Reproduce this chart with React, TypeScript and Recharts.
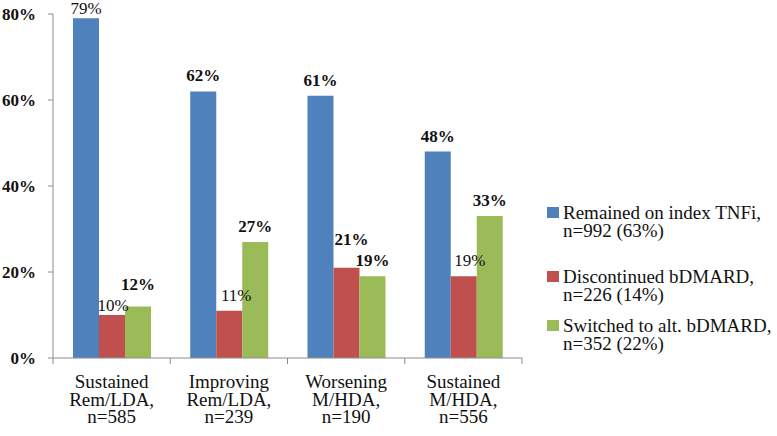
import { BarChart, Bar, XAxis, YAxis, Legend, LabelList } from 'recharts'

const categories = [
  'Sustained\nRem/LDA,\nn=585',
  'Improving\nRem/LDA,\nn=239',
  'Worsening\nM/HDA,\nn=190',
  'Sustained\nM/HDA,\nn=556',
]
const remained = [79, 62, 61, 48]
const discontinued = [10, 11, 21, 19]
const switched = [12, 27, 19, 33]
const yTicks = [0, 20, 40, 60, 80]

const seriesNames = [
  ['Remained on index TNFi,', 'n=992 (63%)'],
  ['Discontinued bDMARD,', 'n=226 (14%)'],
  ['Switched to alt. bDMARD,', 'n=352 (22%)'],
]

const BLUE = '#4F81BD'
const RED = '#C0504D'
const GREEN = '#9BBB59'
const AXIS = '#8c8c8c'
const FONT = 'Liberation Serif, DejaVu Serif, Noto Serif, serif'

const data = categories.map((c, i) => ({
  cat: c,
  remained: remained[i],
  discontinued: discontinued[i],
  switched: switched[i],
}))

// label tweaks copied from the original figure: [dx, dy, bold]
const labelStyle: Record<string, [number, number, boolean]> = {
  remained0: [0, 6, false],
  discontinued0: [1, 6, false],
  switched0: [0, -6, true],
  discontinued1: [7, 0, false],
  discontinued2: [5, -13, true],
  discontinued3: [6, 0, false],
}

const makeLabel = (key: string) => (props: any) => {
  const { x, y, width, value, index } = props
  const [dx, dy, bold] = labelStyle[key + index] ?? [0, 0, true]
  return (
    <text
      x={Number(x) + Number(width) / 2 + dx}
      y={Number(y) - 10 + dy}
      textAnchor="middle"
      style={{ fontFamily: FONT }}
      fontSize={17}
      fontWeight={bold ? 'bold' : 'normal'}
      fill="#111"
    >
      {value}%
    </text>
  )
}

const CatTick = (props: any) => {
  const { x, y, payload, index } = props
  const half = payload?.offset ?? 58.6
  const lines = String(payload.value).split('\n')
  return (
    <g>
      <line x1={x + half} x2={x + half} y1={y} y2={y + 6} stroke={AXIS} />
      {index === 0 && <line x1={x - half} x2={x - half} y1={y} y2={y + 6} stroke={AXIS} />}
      <text x={x} y={y} textAnchor="middle" style={{ fontFamily: FONT }} fontSize={19} fill="#111">
        {lines.map((l, i) => (
          <tspan key={i} x={x} y={y + 30 + i * 17.5}>{l}</tspan>
        ))}
      </text>
    </g>
  )
}

const colors = [BLUE, RED, GREEN]
const gaps = [28, 13, 0]

const LegendBox = () => (
  <div style={{ paddingLeft: 25, fontFamily: FONT, fontSize: 19, lineHeight: '18px', color: '#111' }}>
    {seriesNames.map((lines, i) => (
      <div key={i} style={{ display: 'flex', alignItems: 'flex-start', marginBottom: gaps[i] }}>
        <div style={{ width: 12, height: 11, background: colors[i], marginTop: 3, marginRight: 4, flexShrink: 0 }} />
        <div style={{ whiteSpace: 'nowrap' }}>
          {lines.map(l => <div key={l}>{l}</div>)}
        </div>
      </div>
    ))}
  </div>
)

export default function App() {
  return (
    <div style={{ position: 'absolute', left: 0, top: 0, width: 777, height: 436, background: '#fff', fontFamily: FONT }}>
      <BarChart
        width={777}
        height={436}
        data={data}
        margin={{ top: 14, right: 15, left: 0, bottom: 0 }}
        barGap={0}
        barSize={26}
      >
        <XAxis
          dataKey="cat"
          height={78}
          interval={0}
          axisLine={{ stroke: AXIS }}
          tickLine={false}
          tickSize={0}
          tickMargin={0}
          tick={<CatTick />}
        />
        <YAxis
          width={53}
          domain={[0, 80]}
          ticks={yTicks}
          interval={0}
          tickFormatter={v => `${v}%`}
          axisLine={{ stroke: AXIS }}
          tickLine={{ stroke: AXIS }}
          tickSize={5}
          tickMargin={12}
          tick={{ style: { fontFamily: FONT }, fontSize: 17, fontWeight: 'bold', fill: '#111' }}
        />
        <Legend
          layout="vertical"
          align="right"
          verticalAlign="middle"
          content={<LegendBox />}
          wrapperStyle={{ width: 240, top: 204 }}
        />
        <Bar dataKey="remained" fill={BLUE} isAnimationActive={false}>
          <LabelList dataKey="remained" content={makeLabel('remained')} />
        </Bar>
        <Bar dataKey="discontinued" fill={RED} isAnimationActive={false}>
          <LabelList dataKey="discontinued" content={makeLabel('discontinued')} />
        </Bar>
        <Bar dataKey="switched" fill={GREEN} isAnimationActive={false}>
          <LabelList dataKey="switched" content={makeLabel('switched')} />
        </Bar>
      </BarChart>
    </div>
  )
}
